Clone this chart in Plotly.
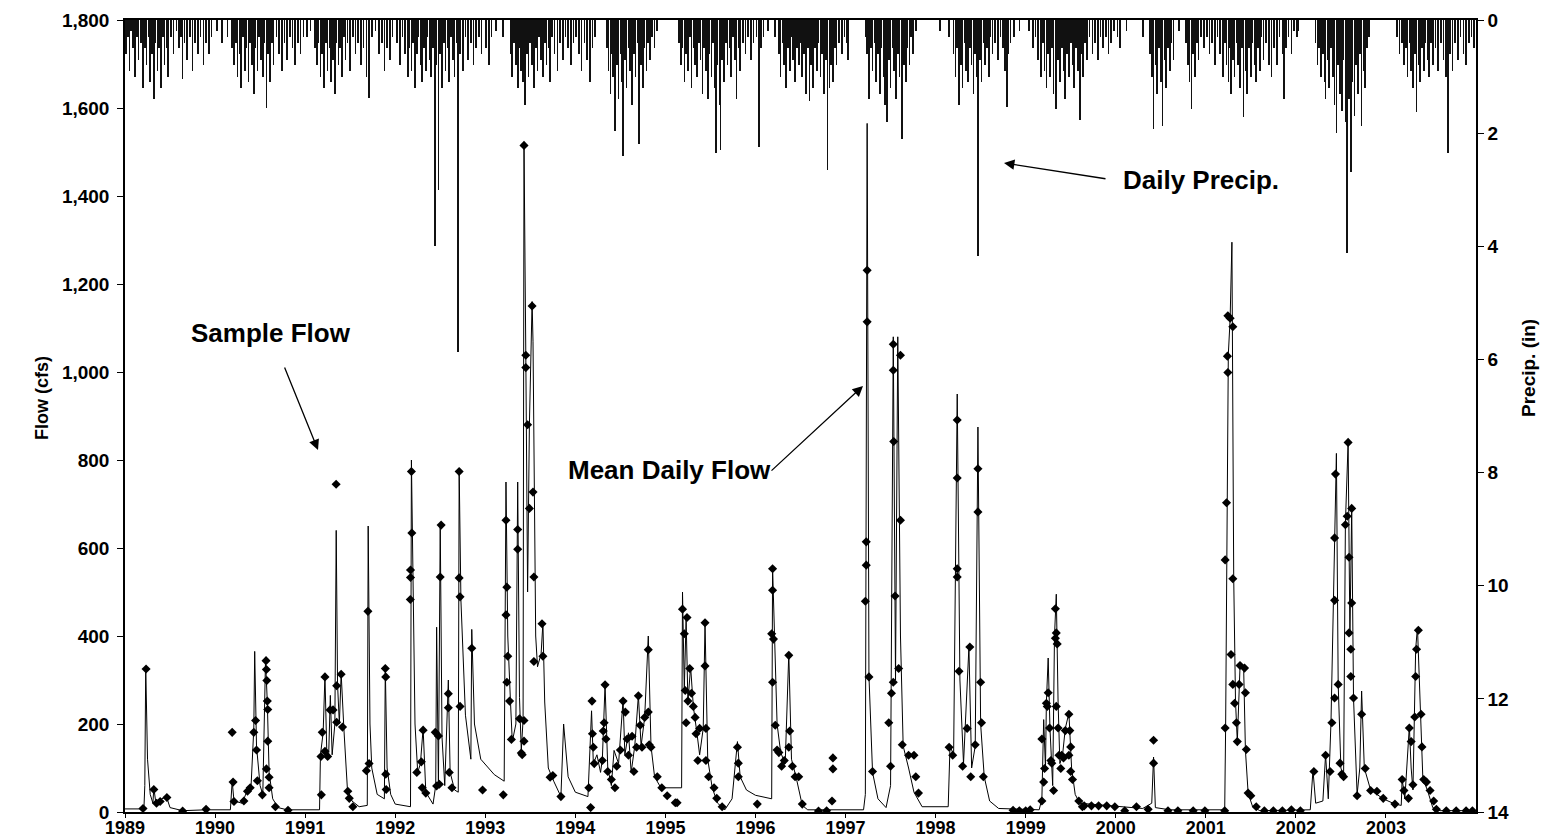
import plotly.graph_objects as go

# ---------------- data (decimal years) ----------------
FLOW_LINE_T = [
 1989.00,1989.21,1989.22,1989.23,1989.25,1989.28,1989.31,1989.32,1989.34,1989.39,1989.46,1989.50,1989.64,1989.90,
 1990.17,1990.19,1990.21,1990.30,1990.36,1990.40,1990.43,1990.44,1990.46,1990.50,1990.53,1990.56,1990.58,1990.60,1990.64,1990.70,1990.80,
 1991.16,1991.17,1991.20,1991.22,1991.24,1991.26,1991.28,1991.30,1991.33,1991.345,1991.36,1991.38,1991.40,1991.43,1991.47,1991.52,1991.60,
 1991.69,1991.70,1991.72,1991.74,1991.80,1991.88,1991.89,1991.91,1991.95,
 1992.00,1992.17,1992.18,1992.20,1992.22,1992.25,1992.28,1992.31,1992.34,1992.42,1992.45,1992.46,1992.48,1992.50,1992.52,1992.55,1992.58,
 1992.59,1992.61,1992.66,1992.70,1992.71,1992.73,1992.76,1992.78,1992.84,1992.85,1992.88,1992.95,
 1993.10,1993.21,1993.23,1993.25,1993.28,1993.30,1993.34,1993.36,1993.38,1993.40,1993.42,1993.43,1993.45,1993.47,1993.49,1993.52,1993.53,
 1993.56,1993.58,1993.62,1993.64,1993.66,1993.70,1993.76,1993.84,1993.87,1993.92,
 1994.00,1994.14,1994.18,1994.20,1994.24,1994.28,1994.30,1994.33,1994.36,1994.40,1994.43,1994.48,1994.53,1994.55,1994.59,1994.62,1994.66,
 1994.70,1994.73,1994.77,1994.81,1994.84,1994.88,1994.95,
 1995.18,1995.19,1995.21,1995.23,1995.25,1995.28,1995.31,1995.35,1995.38,1995.42,1995.44,1995.47,1995.52,1995.58,1995.66,1995.74,1995.80,
 1995.83,1995.90,
 1996.00,1996.18,1996.19,1996.21,1996.24,1996.28,1996.33,1996.37,1996.40,1996.45,1996.52,1996.58,
 1997.20,1997.22,1997.24,1997.26,1997.30,1997.36,1997.45,1997.50,1997.53,1997.555,1997.58,1997.61,1997.64,1997.70,1997.76,1997.85,
 1998.14,1998.16,1998.20,1998.24,1998.27,1998.31,1998.37,1998.40,1998.44,1998.47,1998.50,1998.54,1998.60,1998.70,
 1999.15,1999.18,1999.19,1999.20,1999.22,1999.23,1999.25,1999.27,1999.30,1999.32,1999.34,1999.36,1999.38,1999.41,1999.44,1999.48,1999.51,
 1999.55,1999.60,
 2000.00,2000.30,2000.40,2000.42,2000.44,2000.60,
 2001.21,2001.22,2001.25,2001.27,2001.29,2001.31,2001.33,2001.35,2001.38,2001.42,2001.44,2001.47,2001.52,2001.60,
 2002.16,2002.19,2002.22,2002.30,2002.33,2002.36,2002.39,2002.42,2002.45,2002.47,2002.50,2002.53,2002.55,2002.58,2002.60,2002.62,2002.64,
 2002.68,2002.71,2002.73,2002.76,2002.83,2002.97,
 2003.10,2003.17,2003.18,2003.21,2003.26,2003.28,2003.30,2003.32,2003.33,2003.35,2003.38,2003.41,2003.46,2003.52,2003.60,2004.00]
FLOW_LINE_Q = [
 7,7,60,330,120,40,20,55,25,28,35,10,3,5,
 5,70,25,20,50,60,190,365,150,60,40,345,250,90,30,10,5,
 5,130,180,310,140,120,265,130,200,640,290,200,315,190,50,25,12,
 15,650,200,100,40,30,330,100,40,
 18,12,800,500,200,90,110,190,45,18,60,420,60,655,170,60,270,
 300,90,50,45,780,480,300,220,120,415,200,120,
 85,70,750,400,250,160,200,750,260,140,210,1520,1040,500,880,1160,1070,
 400,330,360,430,250,100,70,35,200,80,
 45,35,230,110,130,90,120,290,100,60,140,110,255,130,180,90,150,
 265,150,215,400,150,80,55,
 55,500,280,440,250,330,240,180,130,190,430,120,55,20,5,30,160,
 80,50,
 38,30,555,400,200,135,110,360,120,80,15,5,
 5,40,1565,310,90,30,10,60,1080,300,1080,400,150,100,45,12,
 12,150,130,950,300,110,375,100,150,875,200,80,25,8,
 5,30,170,210,100,250,350,190,60,400,495,250,110,130,190,225,100,
 40,20,
 14,8,20,125,10,5,
 5,190,1040,1120,1295,530,250,160,330,330,140,43,12,3,
 5,95,20,25,130,30,205,480,815,290,100,80,655,840,400,690,260,
 40,100,275,100,50,30,
 18,15,75,30,195,100,50,220,370,420,220,75,50,10,3,3]

SAMPLE_T = [
 1989.20,1989.234,1989.32,1989.35,1989.39,1989.465,1989.64,1989.90,
 1990.19,1990.20,1990.21,1990.32,1990.36,1990.39,1990.43,1990.45,1990.46,1990.47,1990.525,1990.566,1990.57,1990.575,1990.58,1990.585,
 1990.585,1990.57,1990.60,1990.60,1990.67,1990.81,
 1991.176,1991.18,1991.19,1991.22,1991.22,1991.25,1991.277,1991.31,1991.344,1991.35,1991.35,1991.40,1991.415,1991.474,1991.49,1991.53,
 1991.697,1991.71,1991.68,1991.89,1991.895,1991.895,1991.90,
 1992.18,1992.185,1992.17,1992.17,1992.168,1992.24,1992.29,1992.31,1992.34,1992.30,1992.445,1992.46,1992.51,1992.50,1992.48,1992.49,
 1992.59,1992.59,1992.60,1992.63,1992.71,1992.71,1992.72,1992.72,1992.85,1992.97,
 1993.20,1993.23,1993.24,1993.23,1993.25,1993.24,1993.27,1993.29,1993.36,1993.36,1993.38,1993.40,1993.43,1993.43,1993.41,1993.43,
 1993.45,1993.45,1993.47,1993.49,1993.52,1993.53,1993.54,1993.54,1993.63,1993.64,1993.72,1993.75,1993.84,
 1994.15,1994.17,1994.185,1994.19,1994.20,1994.21,1994.30,1994.31,1994.33,1994.32,1994.34,1994.36,1994.40,1994.44,1994.46,1994.50,
 1994.53,1994.555,1994.575,1994.59,1994.63,1994.65,1994.68,1994.70,1994.72,1994.74,1994.77,1994.81,1994.81,1994.82,1994.84,1994.91,1994.96,
 1995.02,1995.11,1995.13,1995.19,1995.21,1995.24,1995.22,1995.23,1995.25,1995.27,1995.29,1995.31,1995.33,1995.34,1995.36,1995.38,
 1995.44,1995.44,1995.45,1995.45,1995.48,1995.54,1995.57,1995.63,1995.80,1995.81,1995.81,1996.02,
 1996.19,1996.19,1996.18,1996.20,1996.19,1996.22,1996.24,1996.26,1996.29,1996.32,1996.37,1996.38,1996.37,1996.41,1996.44,1996.48,
 1996.52,1996.70,1996.79,1996.86,1996.86,1996.85,
 1997.24,1997.24,1997.23,1997.23,1997.22,1997.26,1997.30,1997.53,1997.53,1997.535,1997.55,1997.53,1997.51,1997.48,1997.50,
 1997.61,1997.61,1997.59,1997.63,1997.70,1997.76,1997.78,1997.81,
 1998.15,1998.24,1998.24,1998.24,1998.24,1998.26,1998.19,1998.30,1998.38,1998.35,1998.39,1998.44,1998.47,1998.47,1998.50,1998.51,1998.53,
 1998.86,1998.93,1999.00,1999.05,
 1999.18,1999.18,1999.20,1999.21,1999.23,1999.24,1999.25,1999.265,1999.28,1999.29,1999.31,1999.33,1999.33,1999.34,1999.35,1999.34,
 1999.36,1999.37,1999.39,1999.40,1999.42,1999.44,1999.48,1999.49,1999.50,1999.48,1999.50,1999.52,1999.59,1999.63,1999.65,1999.73,
 1999.81,1999.90,1999.99,2000.10,2000.23,
 2000.36,2000.42,2000.42,2000.58,2000.69,2000.86,2000.99,
 2001.21,2001.215,2001.215,2001.23,2001.245,2001.24,2001.245,2001.27,2001.30,2001.30,2001.28,2001.30,2001.32,2001.34,2001.35,2001.37,
 2001.38,2001.43,2001.44,2001.45,2001.47,2001.50,2001.56,2001.65,2001.75,2001.85,2001.95,2002.05,
 2002.20,2002.33,2002.38,2002.40,2002.43,2002.43,2002.43,2002.44,2002.47,2002.49,2002.51,2002.53,2002.55,2002.57,2002.58,2002.59,
 2002.59,2002.61,2002.61,2002.62,2002.62,2002.64,2002.68,2002.73,2002.77,2002.83,2002.90,2002.97,2003.10,
 2003.18,2003.20,2003.25,2003.26,2003.28,2003.30,2003.32,2003.33,2003.34,2003.36,2003.39,2003.40,2003.42,2003.45,2003.49,2003.53,
 2003.56,2003.67,2003.78,2003.89,2003.96]
SAMPLE_Q = [
 8,325,51,20,24,33,2,6,
 181,68,24,25,47,55,181,208,141,71,39,344,324,299,252,233,
 161,98,79,55,12,4,
 126,39,181,307,138,126,232,232,745,287,204,313,193,47,31,12,
 456,110,94,326,307,86,51,
 774,634,550,533,483,90,114,186,43,55,181,59,652,534,173,63,
 269,237,90,55,774,532,489,240,372,50,
 39,663,511,448,354,295,252,165,642,597,212,134,161,208,130,1515,
 1038,1010,880,690,1150,727,534,342,428,354,79,83,35,
 55,10,252,178,147,110,117,184,289,203,166,92,74,55,104,141,
 252,227,166,129,172,92,147,264,197,147,215,369,227,153,147,80,55,
 37,21,21,461,405,442,276,203,252,326,270,240,215,178,117,190,
 430,332,190,117,80,55,31,12,147,111,80,18,
 553,504,405,393,295,197,141,135,104,117,356,184,147,104,80,80,
 18,2,3,123,98,25,
 1231,1114,614,561,479,307,92,1063,1004,842,491,295,270,203,104,
 1038,663,326,153,129,129,80,43,
 147,891,759,553,534,320,129,104,375,190,80,153,780,682,295,203,80,
 4,3,3,5,
 25,166,68,99,247,240,271,191,117,111,49,395,462,407,382,240,
 191,129,99,129,123,185,222,185,148,129,92,74,25,12,14,14,
 14,14,12,3,12,
 6,163,111,3,3,3,3,
 3,191,573,703,999,1036,1128,1122,1103,530,358,290,247,203,160,290,
 333,327,271,142,43,37,12,3,3,3,5,3,
 92,129,92,203,259,481,623,768,290,111,86,80,653,672,840,579,
 407,370,308,690,475,259,37,222,99,49,47,31,18,
 74,49,31,191,160,62,216,308,370,413,222,148,74,68,49,25,
 6,3,3,3,3]

# daily precipitation: (fraction of year, inches) per year
P1989 = [(0.01,.6),(0.03,.3),(0.05,.9),(0.07,.2),(0.09,.5),(0.11,1.0),(0.13,.3),(0.15,.7),(0.18,.4),(0.20,1.2),(0.22,.5),(0.24,.8),
         (0.26,.3),(0.28,1.1),(0.30,.6),(0.32,1.4),(0.34,.4),(0.36,.9),(0.38,.5),(0.40,1.2),(0.42,.3),(0.44,.8),(0.46,.5),(0.48,1.0),
         (0.51,.3),(0.54,.6),(0.57,.2),(0.60,.5),(0.62,.3),(0.64,1.05),(0.66,.4),(0.69,.7),(0.72,.3),(0.75,.9),(0.78,.4),(0.81,.6),
         (0.84,.3),(0.87,.8),(0.90,.4),(0.93,.6),(0.96,.3)]
P1990 = [(0.02,.2),(0.08,.4),(0.14,.3),(0.19,.5),(0.21,.8),(0.23,.4),(0.25,1.0),(0.27,.6),(0.29,1.2),(0.31,.3),(0.33,.9),(0.35,.5),
         (0.37,1.1),(0.39,.4),(0.41,.8),(0.43,1.3),(0.45,.5),(0.47,.9),(0.49,.3),(0.51,.7),(0.53,1.0),(0.55,.4),(0.57,1.56),(0.59,.6),
         (0.61,1.1),(0.63,.4),(0.65,.8),(0.68,.3),(0.71,.6),(0.74,.9),(0.77,.4),(0.80,.7),(0.83,.3),(0.86,.5),(0.89,.8),(0.92,.4),
         (0.95,.6),(0.98,.3)]
P1991 = [(0.02,.3),(0.06,.2),(0.11,.5),(0.13,.8),(0.15,.4),(0.17,1.0),(0.19,.6),(0.21,1.2),(0.23,.4),(0.25,.9),(0.27,.5),(0.29,1.1),
         (0.31,.7),(0.33,1.3),(0.35,.4),(0.37,.8),(0.39,.5),(0.41,1.0),(0.43,.3),(0.45,.7),(0.47,.4),(0.50,.9),(0.53,.3),(0.56,.6),
         (0.59,.4),(0.62,.8),(0.65,.5),(0.68,1.0),(0.71,1.38),(0.74,.3),(0.78,.2),(0.82,.6),(0.85,.4),(0.88,.9),(0.91,.5),(0.94,.7),
         (0.97,.3)]
P1992 = [(0.02,.4),(0.05,.8),(0.08,.3),(0.11,.6),(0.14,1.0),(0.16,.5),(0.18,.9),(0.20,.4),(0.22,1.2),(0.24,.6),(0.26,.3),(0.28,.8),
         (0.30,1.1),(0.32,.5),(0.34,.9),(0.36,.3),(0.38,.7),(0.40,1.0),(0.42,.5),(0.44,4.0),(0.46,.8),(0.48,3.0),(0.50,.6),(0.52,1.2),
         (0.54,.4),(0.56,.9),(0.58,.5),(0.60,1.1),(0.62,.3),(0.64,.7),(0.66,1.0),(0.68,.4),(0.70,5.87),(0.72,.6),(0.75,.9),(0.78,.3),
         (0.81,.7),(0.84,.4),(0.87,.8),(0.90,.5),(0.93,.3),(0.96,.6)]
P1993 = [(0.01,.5),(0.04,.8),(0.07,.3),(0.12,.2),(0.20,.3),(0.28,.6),(0.30,1.0),(0.32,.4),(0.34,.8),(0.36,1.2),(0.38,.5),(0.40,.9),
         (0.42,1.1),(0.44,1.5),(0.46,.6),(0.48,1.0),(0.50,.4),(0.52,.8),(0.54,1.2),(0.56,.5),(0.58,.9),(0.60,.3),(0.62,.7),(0.64,1.0),
         (0.66,.4),(0.68,.8),(0.70,.5),(0.72,1.1),(0.74,.3),(0.77,.6),(0.80,.9),(0.83,.4),(0.86,.7),(0.89,.3),(0.92,.5),(0.95,.8),
         (0.98,.4)]
P1994 = [(0.01,.3),(0.04,.6),(0.07,.9),(0.10,.4),(0.13,.7),(0.16,1.1),(0.19,.5),(0.22,.3),(0.35,.5),(0.37,.9),(0.39,1.3),(0.41,.6),
         (0.42,1.0),(0.44,1.96),(0.46,.8),(0.48,1.4),(0.50,.6),(0.52,1.1),(0.53,2.4),(0.55,.7),(0.57,1.2),(0.59,.5),(0.61,.9),(0.63,1.5),
         (0.65,.6),(0.67,1.0),(0.69,.4),(0.71,2.2),(0.73,.8),(0.75,1.2),(0.77,.5),(0.79,.9),(0.81,.4),(0.83,.7),(0.85,.3),(0.88,.5),
         (0.91,.2)]
P1995 = [(0.15,.4),(0.17,.8),(0.19,.5),(0.21,1.1),(0.23,.6),(0.25,.9),(0.27,.3),(0.29,1.2),(0.31,.5),(0.33,.8),(0.35,1.0),(0.37,.4),
         (0.39,.7),(0.41,1.3),(0.43,.5),(0.45,.9),(0.47,1.4),(0.49,.6),(0.51,1.0),(0.53,.4),(0.55,1.2),(0.56,2.35),(0.58,.8),(0.60,1.5),
         (0.61,2.3),(0.63,.7),(0.65,1.1),(0.67,.4),(0.69,.8),(0.71,.5),(0.73,1.0),(0.75,.3),(0.77,.7),(0.79,1.4),(0.81,.5),(0.83,.9),
         (0.86,.4),(0.89,.6),(0.92,.3),(0.95,.7),(0.98,.4)]
P1996 = [(0.01,.3),(0.04,2.25),(0.06,.5),(0.09,.3),(0.14,.2),(0.22,.3),(0.26,.6),(0.28,1.0),(0.30,.4),(0.32,.8),(0.34,1.2),(0.36,.5),
         (0.38,.9),(0.40,.3),(0.42,.7),(0.44,1.1),(0.46,.5),(0.48,.8),(0.50,.4),(0.52,1.0),(0.54,.6),(0.56,1.3),(0.58,.5),(0.60,1.44),
         (0.62,.8),(0.64,1.2),(0.66,.5),(0.68,.9),(0.70,.4),(0.72,1.0),(0.74,.6),(0.76,1.3),(0.78,.7),(0.80,2.66),(0.82,1.2),(0.84,.8),
         (0.86,1.1),(0.88,.5),(0.90,.8),(0.93,.4),(0.96,.6),(0.99,.3)]
P1997 = [(0.01,.4),(0.03,.7),(0.22,.3),(0.24,.6),(0.26,1.4),(0.28,.5),(0.30,.9),(0.32,.4),(0.34,1.1),(0.36,.6),(0.38,1.3),(0.40,.5),
         (0.42,1.0),(0.44,1.5),(0.46,1.8),(0.48,.7),(0.50,1.2),(0.52,.5),(0.54,.9),(0.56,1.4),(0.58,.6),(0.60,1.0),(0.62,.4),(0.63,2.1),
         (0.65,.8),(0.67,1.1),(0.69,.5),(0.71,.8),(0.73,.3),(0.75,.6),(0.78,.2)]
P1998 = [(0.05,.2),(0.15,.3),(0.20,.6),(0.22,1.0),(0.24,.5),(0.26,1.5),(0.28,.8),(0.30,1.2),(0.32,.4),(0.34,.9),(0.36,1.1),(0.38,.5),
         (0.40,.8),(0.42,1.3),(0.44,.6),(0.46,1.0),(0.47,4.17),(0.49,.7),(0.51,1.1),(0.53,.4),(0.55,.8),(0.57,.5),(0.59,1.0),(0.61,.3),
         (0.63,.6),(0.66,.4),(0.69,.7),(0.72,.3),(0.75,.5),(0.77,.9),(0.79,1.53),(0.81,.6),(0.83,.4),(0.87,.3),(0.93,.2)]
P1999 = [(0.04,.2),(0.08,.5),(0.11,.3),(0.14,.7),(0.17,1.0),(0.19,.4),(0.21,.9),(0.23,1.2),(0.25,.6),(0.27,1.0),(0.29,.5),(0.31,1.3),
         (0.33,.8),(0.34,1.58),(0.36,.7),(0.38,1.1),(0.40,.5),(0.42,.9),(0.44,1.4),(0.46,.6),(0.48,1.0),(0.50,.4),(0.52,.8),(0.54,1.2),
         (0.56,.5),(0.58,.9),(0.60,1.77),(0.62,.6),(0.64,1.0),(0.66,.4),(0.68,.7),(0.71,.3),(0.74,.6),(0.77,.4),(0.80,.7),(0.83,.3),
         (0.86,.5),(0.89,.3),(0.92,.6),(0.95,.4),(0.98,.2)]
P2000 = [(0.02,.3),(0.05,.5),(0.12,.2),(0.30,.3),(0.38,.6),(0.40,1.0),(0.42,1.92),(0.44,.8),(0.46,1.3),(0.48,.5),(0.50,1.1),(0.52,1.87),
         (0.54,.7),(0.56,1.2),(0.58,.5),(0.60,.9),(0.62,.4),(0.64,.7),(0.70,.2),(0.78,.4),(0.80,.8),(0.82,1.1),(0.84,1.58),(0.86,.6),
         (0.88,1.0),(0.90,.4),(0.92,.7),(0.95,.3),(0.98,.5)]
P2001 = [(0.01,.3),(0.04,.6),(0.07,.4),(0.10,.8),(0.13,.3),(0.16,.6),(0.19,1.0),(0.21,.4),(0.23,.8),(0.25,1.1),(0.27,.5),(0.28,1.3),
         (0.30,.7),(0.32,1.0),(0.34,.4),(0.36,.8),(0.38,1.2),(0.40,.5),(0.42,1.72),(0.44,.9),(0.46,1.3),(0.48,.5),(0.50,1.0),(0.52,.4),
         (0.54,.8),(0.56,1.1),(0.58,.5),(0.60,.9),(0.62,.3),(0.64,.7),(0.67,.4),(0.70,.8),(0.73,1.0),(0.76,.5),(0.79,.8),(0.82,.3),
         (0.85,.6),(0.87,1.39),(0.89,.5),(0.92,.3),(0.95,.6),(0.98,.2)]
P2002 = [(0.01,.3),(0.03,.2),(0.22,.4),(0.24,.8),(0.26,.5),(0.28,1.0),(0.30,.6),(0.32,1.1),(0.33,1.39),(0.35,.7),(0.37,1.2),(0.39,.5),
         (0.41,1.0),(0.43,1.5),(0.45,2.0),(0.47,.8),(0.49,1.3),(0.51,1.6),(0.53,.7),(0.55,1.8),(0.57,4.12),(0.59,1.4),(0.61,2.68),
         (0.63,1.1),(0.65,1.7),(0.67,.8),(0.69,1.3),(0.71,.6),(0.73,1.87),(0.75,.9),(0.77,1.2),(0.79,.5),(0.81,.3)]
P2003 = [(0.12,.3),(0.15,.6),(0.18,.4),(0.20,.8),(0.22,.5),(0.24,1.0),(0.26,.4),(0.28,.9),(0.30,1.2),(0.32,.6),(0.34,1.63),(0.36,.8),
         (0.38,1.1),(0.40,.5),(0.42,.9),(0.44,.4),(0.46,.7),(0.48,1.0),(0.50,.4),(0.52,.8),(0.55,.5),(0.58,.9),(0.61,.4),(0.64,.7),
         (0.67,1.0),(0.69,2.35),(0.71,.6),(0.74,.9),(0.77,.4),(0.80,.7),(0.83,.3),(0.86,.6),(0.89,.8),(0.92,.4),(0.95,.3),(0.98,.5)]
PRECIP_BY_YEAR = {1989: P1989, 1990: P1990, 1991: P1991, 1992: P1992, 1993: P1993, 1994: P1994, 1995: P1995,
                  1996: P1996, 1997: P1997, 1998: P1998, 1999: P1999, 2000: P2000, 2001: P2001, 2002: P2002, 2003: P2003}

YEAR_TICKS = list(range(1989, 2004))
YEAR_LABELS = [str(y) for y in YEAR_TICKS]

PRECIP_T, PRECIP_IN = [], []
for yr, rows in PRECIP_BY_YEAR.items():
    for frac, inch in rows:
        PRECIP_T.append(yr + frac)
        PRECIP_IN.append(inch)

# ---------------- figure ----------------
FONT = "Liberation Sans, Arial, sans-serif"
TICKF = dict(family=FONT, size=19, color="black", weight="bold")

fig = go.Figure()
fig.add_trace(go.Bar(x=PRECIP_T, y=PRECIP_IN, width=0.007, yaxis="y2",
                     marker=dict(color="#111111", line=dict(width=0)), name="Daily Precip."))
fig.add_trace(go.Scatter(x=FLOW_LINE_T, y=FLOW_LINE_Q, mode="lines",
                         line=dict(color="black", width=1), name="Mean Daily Flow"))
fig.add_trace(go.Scatter(x=SAMPLE_T, y=SAMPLE_Q, mode="markers",
                         marker=dict(symbol="diamond", size=7, color="black"), name="Sample Flow"))

# page body has an 8px margin; the figure div starts at (8, 8)
OFF = 8
W, H = 1556, 829
L, R, T, B = 125 - OFF, 88, 20 - OFF, 25
PW, PH = W - L - R, H - T - B

def px(X):
    return (X - OFF - L) / PW

def py(Y):
    return (T + PH - (Y - OFF)) / PH

ann = []
ann_font = dict(family=FONT, size=26, color="black", weight="bold")
for txt, X, Y in [("Sample Flow", 271, 333), ("Mean Daily Flow", 669, 470), ("Daily Precip.", 1201, 180)]:
    ann.append(dict(text=txt, x=px(X), y=py(Y), xref="paper", yref="paper", showarrow=False,
                    font=ann_font, xanchor="center", yanchor="middle"))
for (tx, ty, hx, hy) in [(284, 366, 318, 450), (770, 472, 863, 386), (1107, 179, 1004, 163)]:
    ann.append(dict(text="", x=px(hx), y=py(hy), xref="paper", yref="paper", showarrow=True,
                    ax=tx - hx, ay=ty - hy, axref="pixel", ayref="pixel",
                    arrowhead=2, arrowsize=1.6, arrowwidth=1.3, arrowcolor="black", standoff=0))
ann.append(dict(text="Flow (cfs)", x=px(42), y=py(398), xref="paper", yref="paper", showarrow=False,
                xanchor="center", yanchor="middle", textangle=-90,
                font=dict(family=FONT, size=18, color="black", weight="bold")))
ann.append(dict(text="Precip. (in)", x=px(1528), y=py(368), xref="paper", yref="paper", showarrow=False,
                xanchor="center", yanchor="middle", textangle=-90,
                font=dict(family=FONT, size=19, color="black", weight="bold")))

fig.update_layout(
    width=W, height=H, margin=dict(l=L, r=R, t=T, b=B, autoexpand=False),
    paper_bgcolor="white", plot_bgcolor="white", showlegend=False, bargap=0,
    xaxis=dict(range=[1989, 2004], tickvals=YEAR_TICKS, ticktext=YEAR_LABELS, ticks="outside", ticklen=4,
               ticklabelstandoff=-5, tickcolor="black", showline=True, linecolor="black", linewidth=1.5,
               mirror=True, showgrid=False, zeroline=False,
               tickfont=dict(family=FONT, size=18, color="black", weight="bold")),
    yaxis=dict(range=[0, 1800], dtick=200, tickformat=",", ticks="outside", ticklen=6, tickcolor="black",
               ticklabelstandoff=4, showline=True, linecolor="black", linewidth=1.5, showgrid=False,
               zeroline=False, tickfont=TICKF),
    yaxis2=dict(range=[14, 0], dtick=2, ticks="outside", ticklen=6, tickcolor="black", overlaying="y",
                side="right", showline=True, linecolor="black", linewidth=1.5, showgrid=False,
                zeroline=False, tickfont=TICKF),
    annotations=ann,
)
fig.write_html("out.html")
